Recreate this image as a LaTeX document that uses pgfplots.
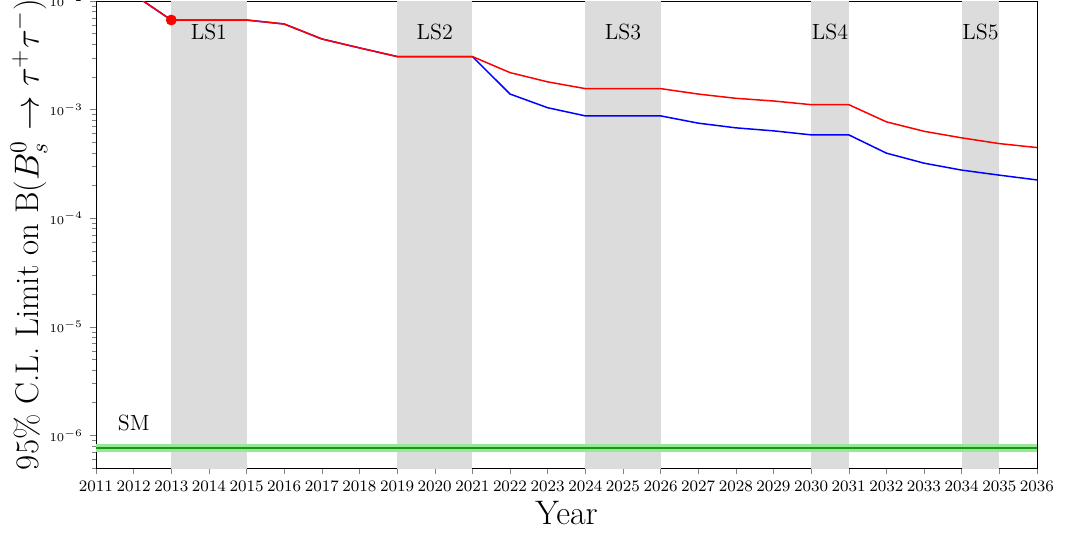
\documentclass[border=0pt]{standalone}
\usepackage{fontspec}
\usepackage{pgfplots}
\pgfplotsset{compat=1.18}
\definecolor{lsgray}{RGB}{220,220,220}
\definecolor{smband}{RGB}{150,232,150}
\definecolor{smline}{RGB}{25,150,25}
\begin{document}
\begin{tikzpicture}
\begin{axis}[
  scale only axis, width=470.5pt, height=233.5pt,
  ymode=log, xmin=2011, xmax=2036, ymin=5e-7, ymax=1e-2,
  xtick={2011,...,2036},
  x tick label style={/pgf/number format/1000 sep={}, font=\fontsize{8.4}{10}\selectfont},
  y tick label style={font=\fontsize{5.8}{7}\selectfont},
  tick align=outside, major tick length=3pt, minor tick length=1.8pt,
  tick pos=left,
  xlabel={Year},
  ylabel={95\% C.L. Limit on B($B_s^0 \rightarrow \tau^+\tau^-$)},
  xlabel style={font=\fontsize{17}{20}\selectfont, at={(axis description cs:0.5,-0.0964)}, anchor=center},
  ylabel style={font=\fontsize{16.4}{20}\selectfont, at={(axis description cs:-0.0712,0.5)}, anchor=center},
]
% long shutdown shading
\addplot[fill=lsgray, draw=none, forget plot] coordinates {(2013,1e-7) (2015,1e-7) (2015,1e-1) (2013,1e-1)};
\addplot[fill=lsgray, draw=none, forget plot] coordinates {(2019,1e-7) (2021,1e-7) (2021,1e-1) (2019,1e-1)};
\addplot[fill=lsgray, draw=none, forget plot] coordinates {(2024,1e-7) (2026,1e-7) (2026,1e-1) (2024,1e-1)};
\addplot[fill=lsgray, draw=none, forget plot] coordinates {(2030,1e-7) (2031,1e-7) (2031,1e-1) (2030,1e-1)};
\addplot[fill=lsgray, draw=none, forget plot] coordinates {(2034,1e-7) (2035,1e-7) (2035,1e-1) (2034,1e-1)};
% SM band and line
\addplot[fill=smband, draw=none, forget plot] coordinates {(2011,7.0e-7) (2036,7.0e-7) (2036,8.25e-7) (2011,8.25e-7)};
\addplot[smline, line width=1.2pt, forget plot] coordinates {(2011,7.64e-7) (2036,7.64e-7)};
% blue
\addplot[blue, line width=0.75pt, mark=none] coordinates {
(2011,1.6e-2) (2012,1.148e-2) (2013,6.68e-3) (2014,6.68e-3) (2015,6.68e-3) (2016,6.14e-3)
(2017,4.47e-3) (2018,3.70e-3) (2019,3.08e-3) (2020,3.08e-3) (2021,3.08e-3)
(2022,1.39e-3) (2023,1.04e-3) (2024,8.75e-4) (2025,8.75e-4) (2026,8.75e-4)
(2027,7.5e-4) (2028,6.79e-4) (2029,6.37e-4) (2030,5.85e-4) (2031,5.85e-4)
(2032,3.97e-4) (2033,3.21e-4) (2034,2.77e-4) (2035,2.49e-4) (2036,2.25e-4)};
% red
\addplot[red, line width=0.75pt, mark=none] coordinates {
(2011,1.6e-2) (2012,1.148e-2) (2013,6.68e-3) (2014,6.68e-3) (2015,6.68e-3) (2016,6.14e-3)
(2017,4.47e-3) (2018,3.70e-3) (2019,3.08e-3) (2020,3.08e-3) (2021,3.08e-3)
(2022,2.19e-3) (2023,1.80e-3) (2024,1.56e-3) (2025,1.56e-3) (2026,1.56e-3)
(2027,1.39e-3) (2028,1.27e-3) (2029,1.20e-3) (2030,1.11e-3) (2031,1.11e-3)
(2032,7.71e-4) (2033,6.31e-4) (2034,5.49e-4) (2035,4.86e-4) (2036,4.47e-4)};
% current point
\addplot[red, only marks, mark=*, mark size=2.5pt] coordinates {(2013,6.68e-3)};
% labels
\node[font=\fontsize{11}{13}\selectfont] at (axis cs:2014,5.2e-3) {LS1};
\node[font=\fontsize{11}{13}\selectfont] at (axis cs:2020,5.2e-3) {LS2};
\node[font=\fontsize{11}{13}\selectfont] at (axis cs:2025,5.2e-3) {LS3};
\node[font=\fontsize{11}{13}\selectfont] at (axis cs:2030.5,5.2e-3) {LS4};
\node[font=\fontsize{11}{13}\selectfont] at (axis cs:2034.5,5.2e-3) {LS5};
\node[font=\fontsize{11}{13}\selectfont] at (axis cs:2012,1.29e-6) {SM};
\end{axis}
\pgfresetboundingbox
\path[use as bounding box] ([shift={(-48pt,-32pt)}]current axis.south west) rectangle ([shift={(14pt,0.5pt)}]current axis.north east);
\end{tikzpicture}
\end{document}
